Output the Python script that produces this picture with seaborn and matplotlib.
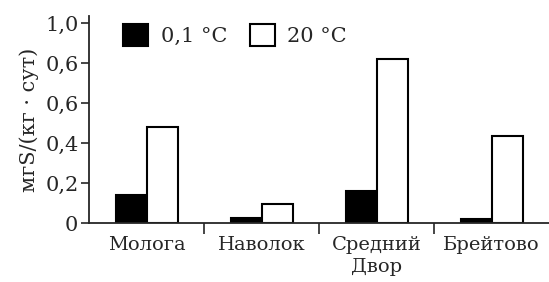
import numpy as np
import matplotlib
matplotlib.use('Agg')
import matplotlib.pyplot as plt
import pandas as pd
import seaborn as sns

sites = ["Молога", "Наволок", "Средний\nДвор", "Брейтово"]
t_low = [0.14, 0.025, 0.163, 0.022]
t_high = [0.483, 0.095, 0.82, 0.438]
temps = ["0,1 °C", "20 °C"]
y_ticks = [0, 0.2, 0.4, 0.6, 0.8, 1.0]
y_labels = ["0", "0,2", "0,4", "0,6", "0,6", "1,0"]

df = pd.DataFrame({
    "site": sites * 2,
    "T": [temps[0]] * 4 + [temps[1]] * 4,
    "val": t_low + t_high,
})

sns.set_style("ticks")
plt.rcParams['font.family'] = ['DejaVu Serif']

fig = plt.figure(figsize=(5.49, 2.82), dpi=100)
ax = fig.add_axes([0.163, 0.208, 0.837, 0.735])
sns.barplot(data=df, x="site", y="val", hue="T", order=sites, hue_order=temps,
            palette=["black", "white"], edgecolor="black", linewidth=1.5,
            width=0.54, saturation=1, ax=ax)

ax.set_xlim(-0.5, 3.5)
ax.set_ylim(0, 1.036)
ax.set_yticks(y_ticks)
ax.set_yticklabels(y_labels, fontsize=15)
ax.tick_params(axis='y', direction='out', length=6, width=1.2, pad=2)
ax.tick_params(axis='x', which='major', length=0, pad=9, labelsize=14)
ax.set_xticks([0.5, 1.5, 2.5], minor=True)
ax.tick_params(axis='x', which='minor', direction='out', length=8, width=1.2)
for lab in ax.get_xticklabels():
    lab.set_linespacing(1.3)
ax.set_xlabel("")
ax.set_ylabel("мгS/(кг · сут)", fontsize=15, labelpad=4)

sns.despine(ax=ax)
ax.spines['left'].set_linewidth(1.3)
ax.spines['bottom'].set_linewidth(1.3)

h, l = ax.get_legend_handles_labels()
ax.legend(h, l, loc="upper left", bbox_to_anchor=(0.055, 1.0), ncol=2,
          frameon=False, fontsize=15, handlelength=1.2, handleheight=1.2,
          handletextpad=0.6, columnspacing=1.1, borderaxespad=0)

plt.savefig("out.png", dpi=100)
